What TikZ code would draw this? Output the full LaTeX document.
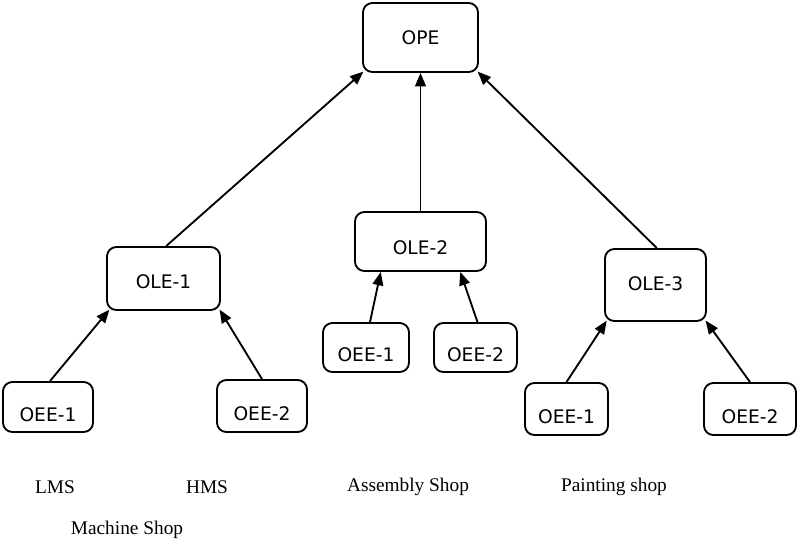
\documentclass[tikz,border=0pt]{standalone}
\usepackage{fontspec}
\setmainfont{Liberation Serif}
\newfontfamily\boxfont{DejaVu Sans}
\usetikzlibrary{arrows.meta}
\newcommand{\bt}[2]{\raisebox{#1}{#2}}
\tikzset{
  bx/.style 2 args={draw, line width=1.4pt, rounded corners=7pt, minimum width=#1*0.75pt, minimum height=#2*0.75pt, inner sep=0pt, text height=10pt, text depth=0pt, font=\boxfont\fontsize{14}{16}\selectfont},
  arr/.style={line width=1.4pt, -{Triangle[length=10pt,width=8pt]}},
  lbl/.style={font=\fontsize{14.5}{16}\selectfont, inner sep=0pt}
}
\begin{document}
\begin{tikzpicture}[x=0.75pt,y=-0.75pt]
\useasboundingbox (0,0) rectangle (800,544);
\node[bx={115}{69}] (ope) at (420.5,37.5) {\bt{0pt}{OPE}};
\node[bx={113}{63}] (ole1) at (163.5,278.5) {\bt{-2.5pt}{OLE-1}};
\node[bx={131}{59}] (ole2) at (420.5,241.5) {\bt{-4.5pt}{OLE-2}};
\node[bx={101}{72}] (ole3) at (655.5,285) {\bt{1pt}{OLE-3}};
\node[bx={90}{50}] (oee1l) at (48,407) {\bt{-5.5pt}{OEE-1}};
\node[bx={90}{52}] (oee2l) at (262,406) {\bt{-5.5pt}{OEE-2}};
\node[bx={86}{49}] (oee1m) at (366,347.5) {\bt{-5.5pt}{OEE-1}};
\node[bx={83}{49}] (oee2m) at (475.5,347.5) {\bt{-5.5pt}{OEE-2}};
\node[bx={83}{52}] (oee1r) at (566.5,409) {\bt{-5.5pt}{OEE-1}};
\node[bx={92}{52}] (oee2r) at (750,409) {\bt{-5.5pt}{OEE-2}};

\draw[arr] ([xshift=2pt]ole1.north) -- ([xshift=1pt,yshift=1pt]ope.south west);
\draw[arr] (ole2.north) -- (ope.south);
\draw[arr] ([xshift=1pt]ole3.north) -- ([xshift=-1pt,yshift=1pt]ope.south east);

\draw[arr] ([xshift=1.5pt]oee1l.north) -- ([xshift=2.5pt,yshift=1pt]ole1.south west);
\draw[arr] (oee2l.north) -- ([xshift=-1pt,yshift=1pt]ole1.south east);

\draw[arr] ([xshift=3pt]oee1m.north) -- ([xshift=20pt]ole2.south west);
\draw[arr] ([xshift=1.5pt]oee2m.north) -- ([xshift=-20pt]ole2.south east);

\draw[arr] (oee1r.north) -- ([xshift=2pt,yshift=1pt]ole3.south west);
\draw[arr] (oee2r.north) -- ([xshift=-1pt,yshift=1pt]ole3.south east);

\node[lbl] (lms) at (55,487) {LMS};
\node[lbl] (hms) at (207,487) {HMS};
\node[lbl] (asm) at (408,487) {Assembly Shop};
\node[lbl] (pnt) at (614,487) {Painting shop};
\node[lbl] (mch) at (127,530) {Machine Shop};
\end{tikzpicture}
\end{document}
